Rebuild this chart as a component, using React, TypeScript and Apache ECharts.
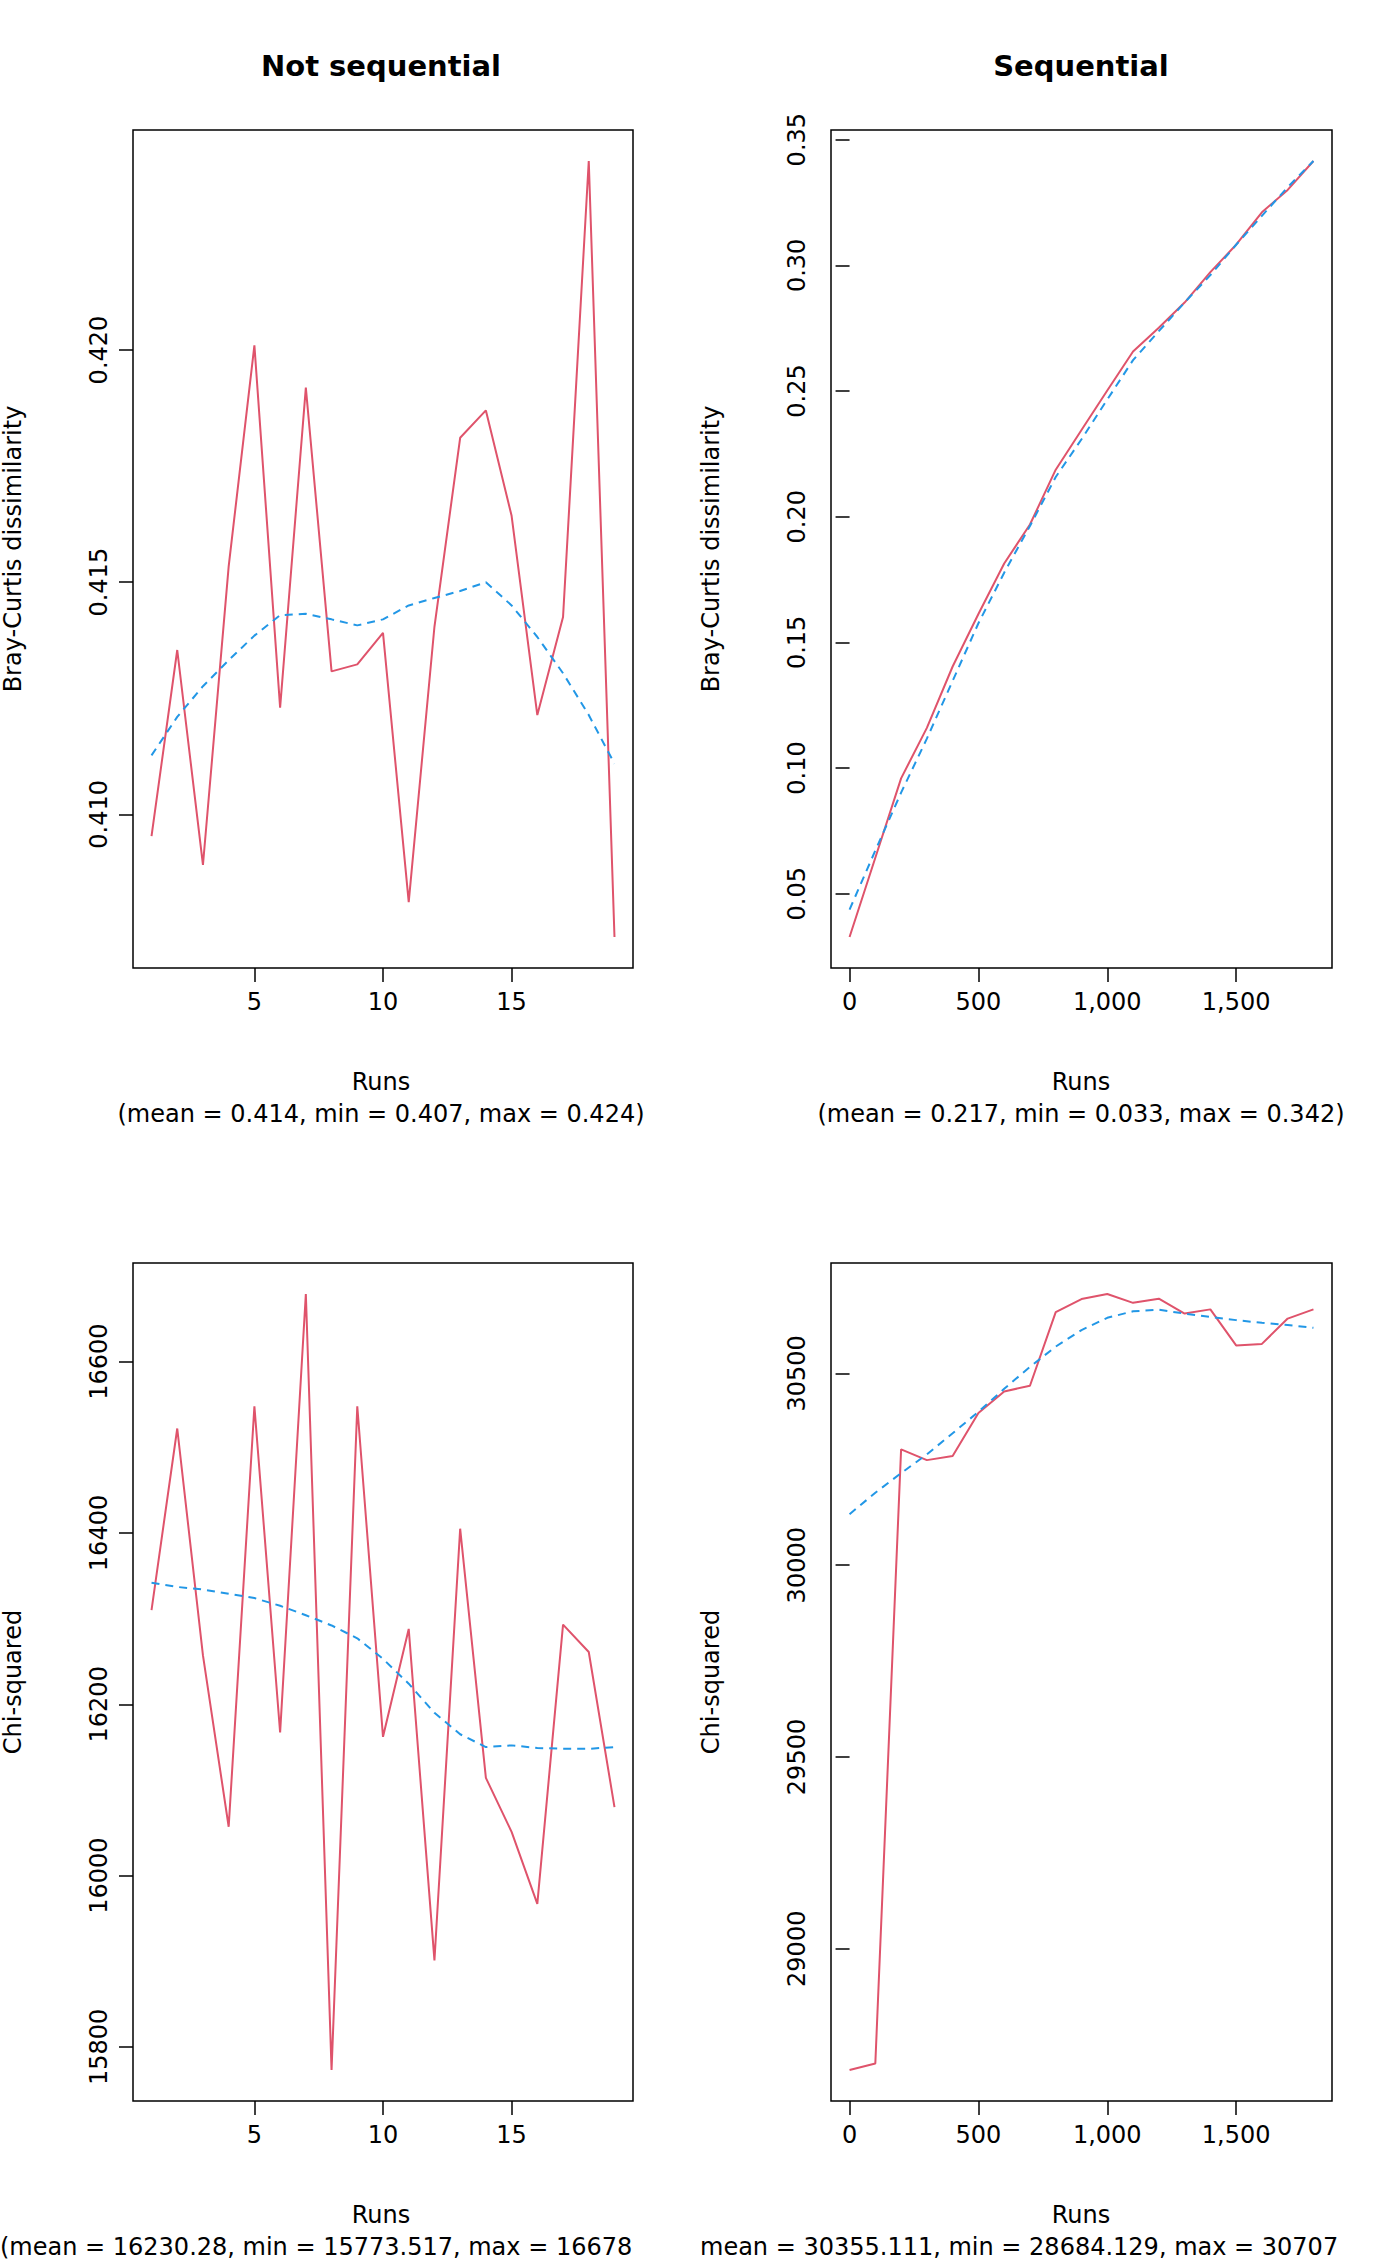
import * as echarts from 'echarts'
import { useEffect, useRef } from 'react'

// x values
const runsIdx = Array.from({ length: 19 }, (_, i) => i + 1)
const runsSeq = Array.from({ length: 19 }, (_, i) => i * 100)

// Bray-Curtis, not sequential
const bcNotRaw = [0.40953, 0.41354, 0.40891, 0.41534, 0.4201, 0.4123, 0.41919, 0.41308, 0.41323, 0.41391,
	0.40811, 0.41404, 0.41811, 0.4187, 0.41643, 0.41214, 0.41425, 0.42407, 0.40736]
const bcNotSmooth = [0.41127, 0.4121, 0.41276, 0.41332, 0.41385, 0.41429, 0.41432, 0.4142, 0.41407, 0.4142,
	0.4145, 0.41466, 0.41481, 0.415, 0.4145, 0.41382, 0.41304, 0.41214, 0.41109]

// Bray-Curtis, sequential
const bcSeqRaw = [0.0328, 0.0643, 0.0959, 0.116, 0.1404, 0.1613, 0.1814, 0.1969, 0.2187, 0.2345,
	0.2502, 0.2657, 0.2752, 0.2852, 0.2973, 0.3082, 0.3211, 0.33, 0.3415]
const bcSeqSmooth = [0.0437, 0.0672, 0.0902, 0.1117, 0.1347, 0.1576, 0.1777, 0.1963, 0.2158, 0.2308,
	0.2466, 0.2623, 0.2738, 0.2852, 0.2961, 0.3082, 0.3197, 0.3311, 0.3415]

// Chi-squared, not sequential
const chiNotRaw = [16310, 16522, 16257, 16057, 16548, 16167, 16679, 15773, 16548, 16162,
	16288, 15901, 16405, 16114, 16051, 15967, 16293, 16261, 16080]
const chiNotSmooth = [16342, 16337, 16334, 16329, 16324, 16315, 16304, 16292, 16277, 16253,
	16224, 16190, 16165, 16150, 16152, 16149, 16148, 16148, 16150]

// Chi-squared, sequential
const chiSeqRaw = [28684, 28701, 30302, 30274, 30285, 30397, 30453, 30468, 30660, 30694,
	30707, 30684, 30695, 30656, 30667, 30573, 30577, 30643, 30667]
const chiSeqSmooth = [30133, 30189, 30240, 30289, 30344, 30400, 30460, 30517, 30570, 30613,
	30645, 30662, 30666, 30656, 30647, 30639, 30632, 30626, 30619]

const xTicksIdx = [5, 10, 15]
const xTicksSeq = [0, 500, 1000, 1500]
const yTicksBcNot = [0.41, 0.415, 0.42]
const yTicksBcSeq = [0.05, 0.1, 0.15, 0.2, 0.25, 0.3, 0.35]
const yTicksChiNot = [15800, 16000, 16200, 16400, 16600]
const yTicksChiSeq = [29000, 29500, 30000, 30500]

const RED = '#DF536B'
const BLUE = '#2297E6'
const FONT = 'DejaVu Sans'

const pad = (arr: number[]) => {
	const lo = Math.min(...arr)
	const hi = Math.max(...arr)
	const d = (hi - lo) * 0.04
	return [lo - d, hi + d]
}

const fmtY = (decimals: number) => (v: number) => v.toFixed(decimals)

const App = () => {
	const chartRef = useRef(null)

	useEffect(() => {
		document.body.style.margin = '0'
		const myChart = echarts.init(chartRef.current, null, { renderer: 'svg' })

		const panels = [
			{ x: runsIdx, raw: bcNotRaw, sm: bcNotSmooth, xt: xTicksIdx, yt: yTicksBcNot, yname: 'Bray-Curtis dissimilarity', dec: 3, left: 130, top: 130, w: 503 },
			{ x: runsSeq, raw: bcSeqRaw, sm: bcSeqSmooth, xt: xTicksSeq, yt: yTicksBcSeq, yname: 'Bray-Curtis dissimilarity', dec: 2, left: 831, top: 130, w: 501 },
			{ x: runsIdx, raw: chiNotRaw, sm: chiNotSmooth, xt: xTicksIdx, yt: yTicksChiNot, yname: 'Chi-squared', dec: 0, left: 130, top: 1263, w: 503 },
			{ x: runsSeq, raw: chiSeqRaw, sm: chiSeqSmooth, xt: xTicksSeq, yt: yTicksChiSeq, yname: 'Chi-squared', dec: 0, left: 831, top: 1263, w: 501 },
		]

		const grid = panels.map((p) => ({
			left: p.left, top: p.top, width: p.w, height: 838,
			show: true, borderColor: '#000', borderWidth: 1.5, backgroundColor: 'transparent',
		}))

		const tickStyle = { show: true, length: 14, lineStyle: { color: '#000', width: 1.5 } }

		const xAxis = panels.map((p, i) => {
			const [mn, mx] = pad(p.x)
			return {
				type: 'value', gridIndex: i, min: mn, max: mx,
				axisLine: { show: false },
				splitLine: { show: false },
				axisTick: { ...tickStyle, customValues: p.xt },
				axisLabel: { customValues: p.xt, color: '#000', fontSize: 24, fontFamily: FONT, margin: 22 },
			}
		})

		const yAxis = panels.map((p, i) => {
			const [mn, mx] = pad([...p.raw, ...p.sm])
			return {
				type: 'value', gridIndex: i, min: mn, max: mx,
				name: p.yname, nameLocation: 'middle', nameGap: 108,
				nameTextStyle: { color: '#000', fontSize: 24, fontFamily: FONT },
				axisLine: { show: false },
				splitLine: { show: false },
				axisTick: { ...tickStyle, customValues: p.yt },
				axisLabel: { customValues: p.yt, rotate: 90, color: '#000', fontSize: 24, fontFamily: FONT, margin: 22, formatter: fmtY(p.dec) },
			}
		})

		const series: any[] = []
		panels.forEach((p, i) => {
			series.push({
				type: 'line', xAxisIndex: i, yAxisIndex: i, showSymbol: false, silent: true,
				data: p.x.map((x, j) => [x, p.raw[j]]),
				lineStyle: { color: RED, width: 2 },
			})
			series.push({
				type: 'line', xAxisIndex: i, yAxisIndex: i, showSymbol: false, silent: true,
				data: p.x.map((x, j) => [x, p.sm[j]]),
				lineStyle: { color: BLUE, width: 2, type: [8, 6] },
			})
		})

		const txt = (x: number, y: number, text: string, align = 'center', extra = {}) => ({
			type: 'text', x, y,
			style: { text, fill: '#000', font: `24px "${FONT}"`, align, verticalAlign: 'middle', ...extra },
		})

		const option = {
			animation: false,
			backgroundColor: '#fff',
			grid, xAxis, yAxis, series,
			graphic: [
				txt(381, 66, 'Not sequential', 'center', { font: `bold 29px "${FONT}"` }),
				txt(1081, 66, 'Sequential', 'center', { font: `bold 29px "${FONT}"` }),
				txt(381, 1082, 'Runs'),
				txt(381, 1114, '(mean = 0.414, min = 0.407, max = 0.424)'),
				txt(1081, 1082, 'Runs'),
				txt(1081, 1114, '(mean = 0.217, min = 0.033, max = 0.342)'),
				txt(381, 2215, 'Runs'),
				txt(0, 2247, '(mean = 16230.28, min = 15773.517, max = 16678', 'left'),
				txt(1081, 2215, 'Runs'),
				txt(700, 2247, 'mean = 30355.111, min = 28684.129, max = 30707', 'left'),
			],
		}

		myChart.setOption(option)

		return () => {
			myChart.dispose()
		}
	}, [])

	return <div ref={chartRef} style={{ width: '1400px', height: '2266px' }} />
}

export default App
